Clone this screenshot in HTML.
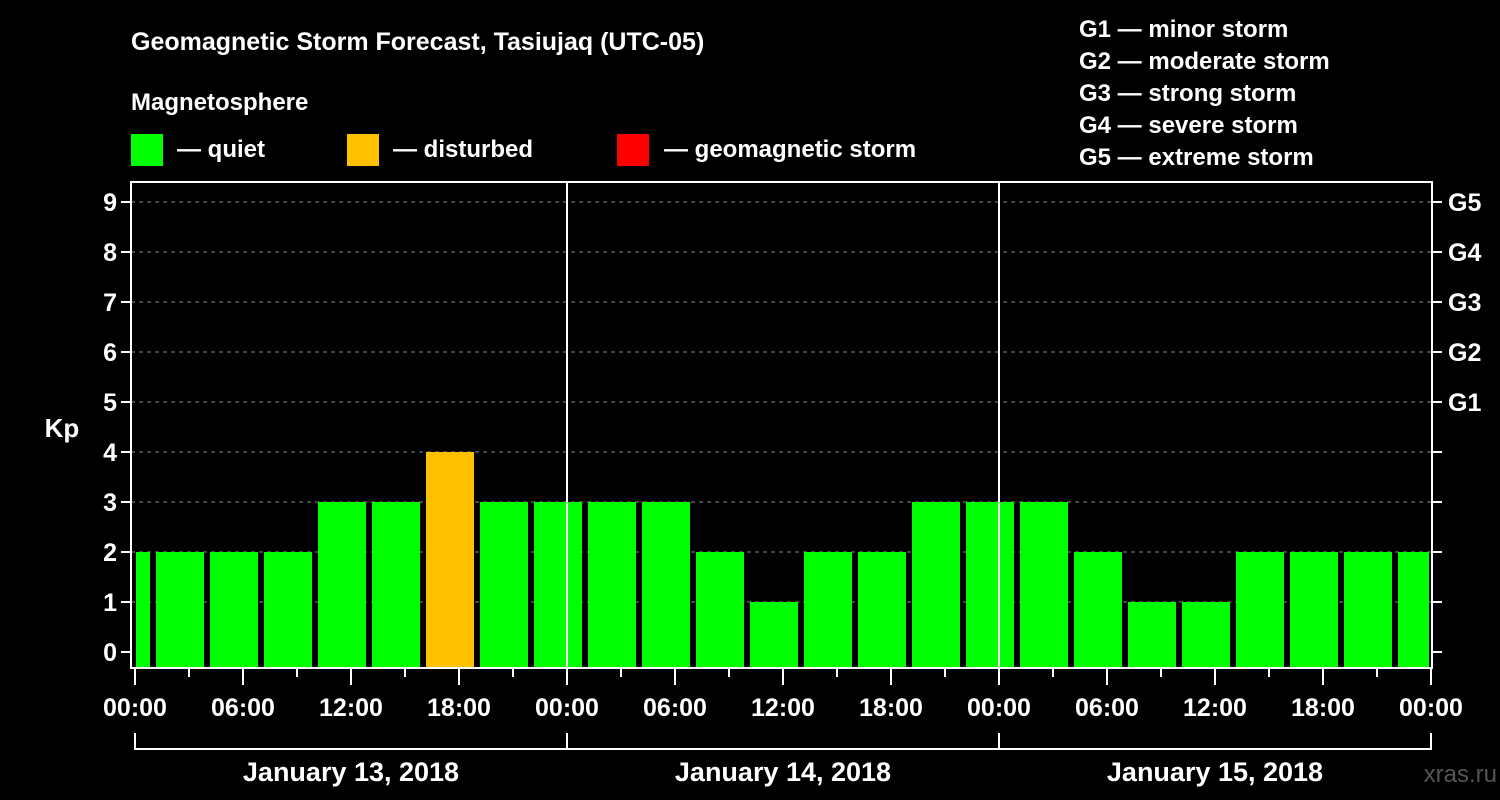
<!DOCTYPE html>
<html><head><meta charset="utf-8"><style>
html,body{margin:0;padding:0;background:#000;}
svg{display:block;font-family:"Liberation Sans",Arial,sans-serif;font-weight:bold;}
</style></head><body>
<svg id="c" width="1500" height="800" viewBox="0 0 1500 800">
<rect width="1500" height="800" fill="#000"/>
<text x="131" y="50" fill="#fff" font-size="25">Geomagnetic Storm Forecast, Tasiujaq (UTC-05)</text>
<text x="131" y="110" fill="#fff" font-size="24">Magnetosphere</text>
<g><rect x="131" y="134" width="32" height="32" fill="#00ff00"/><text x="177" y="157" fill="#fff" font-size="24">— quiet</text></g>
<g><rect x="347" y="134" width="32" height="32" fill="#ffc000"/><text x="393" y="157" fill="#fff" font-size="24">— disturbed</text></g>
<g><rect x="617" y="134" width="32" height="32" fill="#ff0000"/><text x="664" y="157" fill="#fff" font-size="24">— geomagnetic storm</text></g>
<g fill="#fff" font-size="24">
<text x="1079" y="37">G1 — minor storm</text>
<text x="1079" y="69">G2 — moderate storm</text>
<text x="1079" y="101">G3 — strong storm</text>
<text x="1079" y="133">G4 — severe storm</text>
<text x="1079" y="165">G5 — extreme storm</text>
</g>
<text x="62" y="437" fill="#fff" font-size="26" text-anchor="middle">Kp</text>
<text x="1497" y="782" fill="#555" font-size="24" text-anchor="end" font-weight="normal">xras.ru</text>
<g id="plot"></g>
</svg>
<script>
const values=[2,2,2,2,3,3,4,3,3,3,3,2,1,2,2,3,3,3,2,1,1,2,2,2,2];
const yTicks=[0,1,2,3,4,5,6,7,8,9];
const gLabels=["G1","G2","G3","G4","G5"];
const gLevels=[5,6,7,8,9];
const xLabels=["00:00","06:00","12:00","18:00","00:00","06:00","12:00","18:00","00:00","06:00","12:00","18:00","00:00"];
const days=["January 13, 2018","January 14, 2018","January 15, 2018"];
const NS="http://www.w3.org/2000/svg";
const g=document.getElementById('plot');
const L=131,R=1432,T=182,B=668,X0=135,PXH=18;
const y=v=>652-50*v;
const x=h=>X0+h*PXH;
function mk(t,a,p){const e=document.createElementNS(NS,t);for(const k in a)e.setAttribute(k,a[k]);(p||g).appendChild(e);return e;}
yTicks.forEach(v=>{if(v>=1){const l=mk('line',{x1:L,x2:R,y1:y(v),y2:y(v),stroke:'#888','stroke-dasharray':'4,4','stroke-width':1});

}});
values.forEach((v,i)=>{let x1=x(3*i)-33,x2=x1+48;x1=Math.max(x1,L+5);x2=Math.min(x2,R-3);
const r=mk('rect',{x:x1,y:y(v),width:x2-x1,height:B-1-y(v),fill:v>=5?'#ff0000':(v>=4?'#ffc000':'#00ff00')});

});
[1,2].forEach(d=>{const l=mk('line',{x1:x(24*d),x2:x(24*d),y1:T,y2:B,stroke:'#fff','stroke-width':2});

});
const f=mk('rect',{x:L,y:T,width:R-L,height:B-T,fill:'none',stroke:'#fff','stroke-width':2});


yTicks.forEach(v=>{mk('line',{x1:L-10,x2:L,y1:y(v),y2:y(v),stroke:'#fff','stroke-width':2});
const t=mk('text',{x:L-14,y:y(v)+9,fill:'#fff','font-size':25,'text-anchor':'end'});t.textContent=v;


mk('line',{x1:R,x2:R+10,y1:y(v),y2:y(v),stroke:'#fff','stroke-width':2});});
gLevels.forEach((v,i)=>{const t=mk('text',{x:R+16,y:y(v)+9,fill:'#fff','font-size':25});t.textContent=gLabels[i];

});
for(let h=0;h<=72;h+=3){mk('line',{x1:x(h),x2:x(h),y1:B,y2:h%6?B+9:B+17,stroke:'#fff','stroke-width':2});}
xLabels.forEach((s,i)=>{const t=mk('text',{x:x(6*i),y:716,fill:'#fff','font-size':25,'text-anchor':'middle'});t.textContent=s;

});
mk('path',{d:`M${x(0)} 733V749H${x(72)}V733M${x(24)} 749V733M${x(48)} 749V733`,stroke:'#fff','stroke-width':2,fill:'none'});
days.forEach((s,i)=>{const t=mk('text',{x:x(24*i+12),y:781,fill:'#fff','font-size':27,'text-anchor':'middle'});t.textContent=s;

});
</script>
</body></html>
